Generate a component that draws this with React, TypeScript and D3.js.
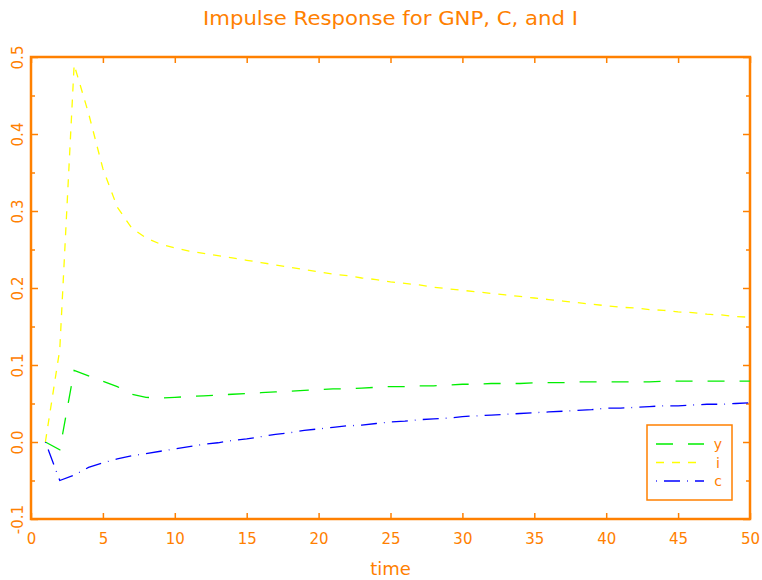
import React from "react";
import * as d3 from "d3";

const W = 762;
const H = 580;
const margin = { top: 57, right: 12, bottom: 61, left: 31 };
const ORANGE = "#ff8000";
const FONT = "'DejaVu Sans', sans-serif";

const title = "Impulse Response for GNP, C, and I";
const xLabel = "time";

const time = d3.range(1, 51);

// y: GNP response (green)
const gnp = [
  0, -0.01, 0.093, 0.086, 0.079, 0.072, 0.062, 0.058, 0.057, 0.058,
  0.059, 0.06, 0.061, 0.062, 0.063, 0.064, 0.065, 0.066, 0.067, 0.068,
  0.069, 0.069, 0.07, 0.071, 0.072, 0.072, 0.073, 0.073, 0.074, 0.075,
  0.075, 0.076, 0.076, 0.076, 0.077, 0.077, 0.077, 0.078, 0.078, 0.078,
  0.078, 0.078, 0.078, 0.079, 0.079, 0.079, 0.079, 0.079, 0.079, 0.079,
];

// i: investment response (yellow)
const invest = [
  0, 0.12, 0.49, 0.427, 0.355, 0.305, 0.278, 0.265, 0.257, 0.252,
  0.248, 0.245, 0.242, 0.239, 0.236, 0.233, 0.23, 0.227, 0.224, 0.221,
  0.218, 0.216, 0.213, 0.211, 0.208, 0.206, 0.204, 0.201, 0.199, 0.197,
  0.195, 0.193, 0.191, 0.189, 0.187, 0.185, 0.183, 0.181, 0.179, 0.177,
  0.175, 0.174, 0.172, 0.171, 0.169, 0.168, 0.166, 0.165, 0.163, 0.162,
];

// c: consumption response (blue)
const cons = [
  0, -0.05, -0.043, -0.033, -0.027, -0.022, -0.018, -0.015, -0.012, -0.009,
  -0.006, -0.003, -0.001, 0.002, 0.004, 0.007, 0.01, 0.012, 0.015, 0.017,
  0.019, 0.021, 0.022, 0.024, 0.026, 0.027, 0.029, 0.03, 0.031, 0.033,
  0.034, 0.035, 0.036, 0.037, 0.038, 0.039, 0.04, 0.041, 0.042, 0.044,
  0.044, 0.045, 0.046, 0.047, 0.047, 0.048, 0.049, 0.049, 0.05, 0.051,
];

const xTicks = [0, 5, 10, 15, 20, 25, 30, 35, 40, 45, 50];
const yTicks = [-0.1, 0, 0.1, 0.2, 0.3, 0.4, 0.5];
const yMinor = [-0.05, 0.05, 0.15, 0.25, 0.35, 0.45];

const series = [
  { name: "y", values: gnp, color: "#00ee00", dash: "17,15" },
  { name: "i", values: invest, color: "#ffff00", dash: "8,8" },
  { name: "c", values: cons, color: "#0000ff", dash: "0.8,7.2,16,7" },
];

export default function App() {
  const ref = React.useRef<SVGSVGElement>(null);

  React.useEffect(() => {
    const svg = d3.select(ref.current);
    svg.selectAll("*").remove();

    const x = d3
      .scaleLinear()
      .domain([0, 50])
      .range([margin.left, W - margin.right]);
    const y = d3
      .scaleLinear()
      .domain([-0.1, 0.5])
      .range([H - margin.bottom, margin.top]);

    const styleAxis = (g) => {
      g.select(".domain").remove();
      g.selectAll(".tick line").attr("stroke", ORANGE).attr("stroke-width", 1.5);
      g.selectAll("text")
        .attr("fill", ORANGE)
        .style("font-family", FONT)
        .style("font-size", "15px");
    };

    // bottom axis, ticks pointing up
    svg
      .append("g")
      .attr("transform", `translate(0,${H - margin.bottom})`)
      .call(d3.axisBottom(x).tickValues(xTicks).tickSize(-6).tickSizeOuter(0))
      .call(styleAxis)
      .call((g) => g.selectAll("text").attr("y", 25).attr("dy", 0));

    // top axis, no labels
    svg
      .append("g")
      .attr("transform", `translate(0,${margin.top})`)
      .call(
        d3.axisTop(x).tickValues(xTicks).tickSize(-6).tickSizeOuter(0).tickFormat(() => "")
      )
      .call(styleAxis);

    // left axis with rotated labels
    svg
      .append("g")
      .attr("transform", `translate(${margin.left},0)`)
      .call(
        d3
          .axisLeft(y)
          .tickValues(yTicks)
          .tickSize(-7)
          .tickSizeOuter(0)
          .tickFormat((d) => d3.format(".1f")(d).replace("−", "-"))
      )
      .call(styleAxis)
      .call((g) =>
        g
          .selectAll("text")
          .attr("transform", "rotate(-90)")
          .attr("x", 0)
          .attr("y", -8)
          .attr("dy", 0)
          .attr("text-anchor", "middle")
      );

    svg
      .append("g")
      .attr("transform", `translate(${margin.left},0)`)
      .call(d3.axisLeft(y).tickValues(yMinor).tickSize(-4).tickFormat(() => ""))
      .call(styleAxis);

    // right axis
    svg
      .append("g")
      .attr("transform", `translate(${W - margin.right},0)`)
      .call(
        d3.axisRight(y).tickValues(yTicks).tickSize(-7).tickSizeOuter(0).tickFormat(() => "")
      )
      .call(styleAxis);

    svg
      .append("g")
      .attr("transform", `translate(${W - margin.right},0)`)
      .call(d3.axisRight(y).tickValues(yMinor).tickSize(-4).tickFormat(() => ""))
      .call(styleAxis);

    // frame
    svg
      .append("rect")
      .attr("x", margin.left)
      .attr("y", margin.top)
      .attr("width", W - margin.left - margin.right)
      .attr("height", H - margin.top - margin.bottom)
      .attr("fill", "none")
      .attr("stroke", ORANGE)
      .attr("stroke-width", 2.5);

    const line = d3
      .line<number>()
      .x((d, i) => x(time[i]))
      .y((d) => y(d));

    series.forEach((s) => {
      svg
        .append("path")
        .datum(s.values)
        .attr("fill", "none")
        .attr("stroke", s.color)
        .attr("stroke-width", 1.3)
        .attr("stroke-dasharray", s.dash)
        .attr("d", line);
    });

    // title and x label
    svg
      .append("text")
      .attr("x", 390.5)
      .attr("y", 25)
      .attr("text-anchor", "middle")
      .attr("fill", ORANGE)
      .attr("textLength", 375)
      .attr("lengthAdjust", "spacingAndGlyphs")
      .style("font-family", FONT)
      .style("font-size", "19px")
      .text(title);

    svg
      .append("text")
      .attr("x", (margin.left + W - margin.right) / 2)
      .attr("y", 575)
      .attr("text-anchor", "middle")
      .attr("fill", ORANGE)
      .style("font-family", FONT)
      .style("font-size", "18px")
      .text(xLabel);

    // legend
    const lg = svg.append("g").attr("transform", "translate(647,425)");
    lg.append("rect")
      .attr("width", 85)
      .attr("height", 75)
      .attr("fill", "none")
      .attr("stroke", ORANGE)
      .attr("stroke-width", 1.5);

    series.forEach((s, i) => {
      const ly = 19 + i * 18.5;
      lg.append("line")
        .attr("x1", 9)
        .attr("x2", 57)
        .attr("y1", ly)
        .attr("y2", ly)
        .attr("stroke", s.color)
        .attr("stroke-width", 1.3)
        .attr("stroke-dasharray", s.dash);
      lg.append("text")
        .attr("x", 71)
        .attr("y", ly + 5)
        .attr("text-anchor", "middle")
        .attr("fill", ORANGE)
        .style("font-family", FONT)
        .style("font-size", "14px")
        .text(s.name);
    });
  }, []);

  return (
    <svg
      ref={ref}
      width={W}
      height={H}
      style={{ position: "absolute", left: 0, top: 0, background: "#fff" }}
    />
  );
}
